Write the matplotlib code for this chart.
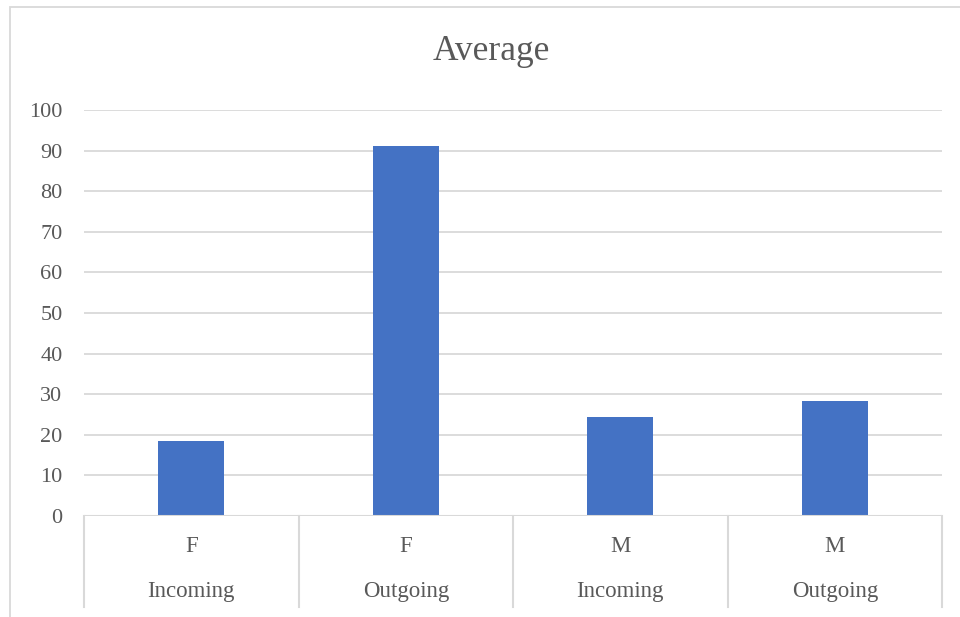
import matplotlib
matplotlib.use("Agg")
import matplotlib.pyplot as plt
from matplotlib.patches import Rectangle
from matplotlib.lines import Line2D

genders = ["F", "F", "M", "M"]
directions = ["Incoming", "Outgoing", "Incoming", "Outgoing"]
averages = [18.5, 91.2, 24.3, 28.3]
y_ticks = [0, 10, 20, 30, 40, 50, 60, 70, 80, 90, 100]

W, H = 960, 617
fig = plt.figure(figsize=(W / 100, H / 100), dpi=100)
plt.rcParams['font.family'] = ['Liberation Serif', 'DejaVu Serif']

text_col = "#595959"
grid_col = "#d9d9d9"

# outer chart border (right/bottom cropped off in reference)
fig.patches.append(Rectangle((10 / W, -0.05), 1.2, 1 - 7 / H + 0.05,
                             transform=fig.transFigure, fill=False,
                             edgecolor=grid_col, linewidth=1.3))

left, right, top, bottom = 84, 942, 110, 516
ax = fig.add_axes([left / W, 1 - bottom / H, (right - left) / W, (bottom - top) / H])

x = list(range(len(averages)))
ax.bar(x, averages, width=0.31, color="#4472C4", zorder=3)
ax.set_xlim(-0.5, len(averages) - 0.5)
ax.set_ylim(0, 100)
ax.set_yticks(y_ticks)
ax.set_yticklabels([str(v) for v in y_ticks], fontsize=16, color=text_col)
ax.tick_params(axis='y', length=0, pad=15.5)
ax.set_xticks([])
for s in ax.spines.values():
    s.set_visible(False)
for v in y_ticks[1:]:
    ax.axhline(v, color=grid_col, linewidth=1.3, zorder=1)
ax.axhline(0, color=grid_col, linewidth=1.5, zorder=4)

# multi-level category axis
sep_bottom = (bottom - 607) / (bottom - top)
trans = ax.get_xaxis_transform()
for i in range(len(averages) + 1):
    xs = i - 0.5
    ax.add_line(Line2D([xs, xs], [0, sep_bottom], transform=trans, color=grid_col,
                       linewidth=1.5, clip_on=False))
for i, (g, d) in enumerate(zip(genders, directions)):
    ax.text(i, (bottom - 547) / (bottom - top), g, transform=trans, ha='center', va='center',
            fontsize=16.5, color=text_col)
    ax.text(i, (bottom - 592) / (bottom - top), d, transform=trans, ha='center', va='center',
            fontsize=16.5, color=text_col)

fig.text(491 / W, 1 - 52 / H, "Average", ha='center', va='center', fontsize=25.5, color=text_col)

fig.savefig("out.png", dpi=100, facecolor="white")
